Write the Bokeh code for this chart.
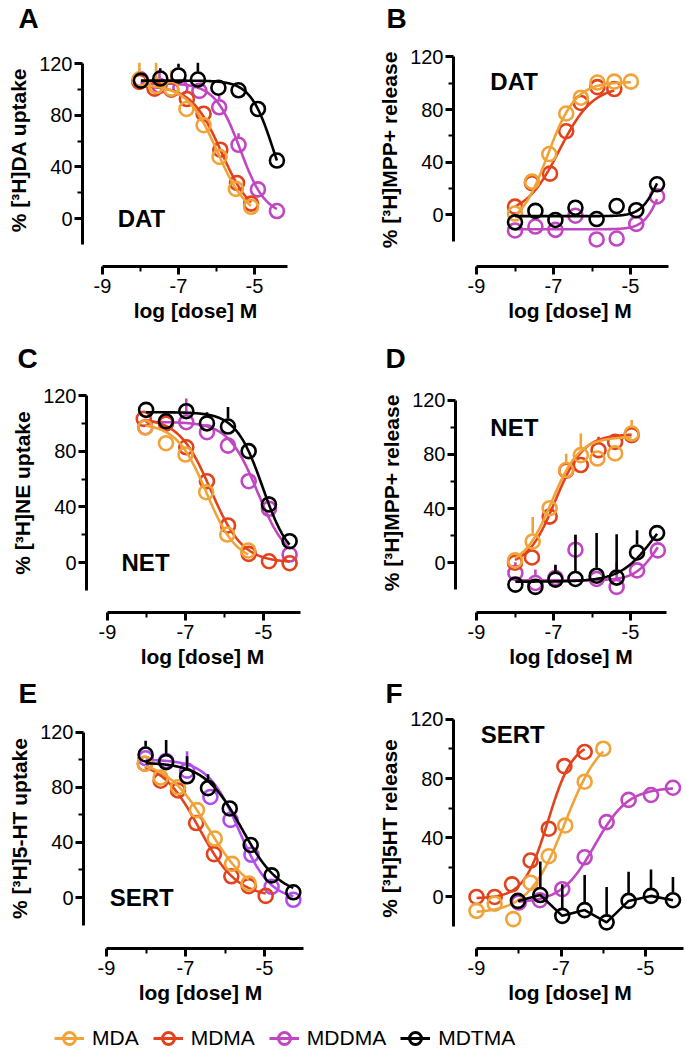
import numpy as np
from bokeh.plotting import figure
from bokeh.models import Range1d, FixedTicker, Legend, LegendItem, Label
from bokeh.layouts import row, column
from bokeh.embed import file_html
from bokeh.resources import INLINE

# ---------------- data ----------------
DRUGS = ["MDA", "MDMA", "MDDMA", "MDTMA"]

X_TICKS = [-9, -7, -5]
X_TICK_LABELS = ["-9", "-7", "-5"]
X_MINOR = [-8, -6]
Y_TICKS = [0, 40, 80, 120]
Y_TICK_LABELS = ["0", "40", "80", "120"]
Y_MINOR = [20, 60, 100]
X_TITLE = "log [dose] M"

# Panel A  - DAT uptake
A_MDA_x = [-8.03, -7.59, -7.19, -6.79, -6.34, -5.92, -5.49, -5.09]
A_MDA_y = [107.8, 102.8, 100.8, 85.0, 72.4, 47.8, 23.0, 9.1]
A_MDA_e = [13, 18, 14, 0, 0, 0, 0, 0]
A_MDMA_x = [-8.03, -7.63, -7.19, -6.78, -6.34, -5.90, -5.46, -5.09]
A_MDMA_y = [106.0, 100.8, 100.0, 92.7, 81.3, 53.4, 27.6, 11.6]
A_MDMA_e = [0, 0, 0, 0, 0, 0, 0, 0]
A_MDDMA_x = [-8.00, -7.50, -6.95, -6.45, -5.93, -5.42, -4.91, -4.41]
A_MDDMA_y = [108.0, 103.0, 101.5, 99.0, 86.3, 57.2, 22.6, 5.8]
A_MDDMA_e = [0, 12, 0, 0, 9, 9, 0, 0]
A_MDTMA_x = [-7.99, -7.48, -7.00, -6.49, -5.95, -5.42, -4.91, -4.41]
A_MDTMA_y = [107.0, 108.6, 111.0, 107.8, 101.5, 99.5, 85.0, 45.0]
A_MDTMA_e = [0, 8, 9, 13, 0, 0, 0, 0]
# fitted curve parameters (bottom, top, logEC50, hill) in DRUGS order
A_fit_bottom = [0, 0, 2, 0]
A_fit_top = [104, 103, 105, 107]
A_fit_logec50 = [-5.98, -5.87, -5.375, -4.506]
A_fit_hill = [-1.1, -1.1, -1.3, -1.45]

# Panel B  - DAT release
B_MDA_x = [-8.00, -7.56, -7.11, -6.67, -6.29, -5.86, -5.42, -4.99]
B_MDA_y = [1.0, 25.2, 46.2, 77.0, 89.0, 100.5, 101.2, 101.2]
B_MDA_e = [0, 0, 0, 0, 0, 0, 0, 0]
B_MDMA_x = [-8.00, -7.56, -7.09, -6.67, -6.29, -5.86, -5.42]
B_MDMA_y = [6.2, 24.0, 31.3, 63.5, 85.0, 97.0, 95.6]
B_MDMA_e = [0, 0, 0, 0, 0, 0, 0]
B_MDDMA_x = [-8.00, -7.47, -6.95, -6.43, -5.88, -5.36, -4.85, -4.31]
B_MDDMA_y = [-11.9, -8.9, -11.4, -0.7, -18.7, -18.0, -6.9, 14.0]
B_MDDMA_e = [0, 0, 0, 0, 0, 0, 0, 0]
B_MDTMA_x = [-8.00, -7.47, -6.95, -6.43, -5.88, -5.36, -4.85, -4.31]
B_MDTMA_y = [-5.7, 3.0, -3.9, 5.4, -3.2, 6.7, 3.5, 23.2]
B_MDTMA_e = [0, 0, 0, 0, 0, 0, 0, 0]
B_fit_bottom = [-10, 0, -11, -1]
B_fit_top = [101, 98, 50, 50]
B_fit_logec50 = [-7.15, -6.85, -4.2, -4.3]
B_fit_hill = [1.2, 1.0, 2.0, 2.0]

# Panel C  - NET uptake
C_MDA_x = [-8.03, -7.50, -7.00, -6.47, -5.93, -5.39]
C_MDA_y = [97.0, 85.7, 77.6, 50.5, 20.1, 8.6]
C_MDA_e = [0, 0, 0, 0, 0, 0]
C_MDMA_x = [-8.07, -7.50, -6.98, -6.45, -5.91, -5.38, -4.86, -4.33]
C_MDMA_y = [103.2, 100.0, 82.8, 58.4, 26.6, 6.2, 0.9, -0.5]
C_MDMA_e = [0, 0, 0, 0, 0, 0, 0, 0]
C_MDDMA_x = [-8.03, -7.50, -6.98, -6.45, -5.91, -5.38, -4.86, -4.33]
C_MDDMA_y = [97.2, 100.0, 100.8, 93.6, 84.0, 58.4, 38.6, 5.7]
C_MDDMA_e = [0, 8, 17, 0, 0, 0, 0, 0]
C_MDTMA_x = [-8.01, -7.50, -6.98, -6.45, -5.91, -5.38, -4.86, -4.33]
C_MDTMA_y = [109.7, 101.5, 108.7, 100.0, 97.7, 80.0, 41.7, 15.3]
C_MDTMA_e = [0, 0, 0, 8, 14, 0, 6, 0]
C_fit_bottom = [0, 0, 0, 0]
C_fit_top = [100, 104, 101, 108]
C_fit_logec50 = [-6.46, -6.35, -5.15, -5.02]
C_fit_hill = [-1.13, -1.06, -1.15, -1.26]

# Panel D  - NET release
D_MDA_x = [-8.00, -7.54, -7.10, -6.67, -6.29, -5.86, -5.40, -4.97]
D_MDA_y = [1.7, 15.7, 40.3, 68.5, 79.5, 77.0, 80.8, 95.5]
D_MDA_e = [0, 18, 0, 12, 16, 0, 0, 10]
D_MDMA_x = [-8.00, -7.56, -7.10, -6.67, -6.29, -5.83, -5.40, -4.97]
D_MDMA_y = [0.0, 3.9, 34.1, 68.0, 72.2, 83.2, 89.3, 94.3]
D_MDMA_e = [0, 0, 0, 0, 0, 10, 0, 0]
D_MDDMA_x = [-7.99, -7.47, -6.95, -6.43, -5.88, -5.36, -4.83, -4.29]
D_MDDMA_y = [-7.6, -15.0, -11.3, 9.6, -12.0, -17.9, -5.7, 9.1]
D_MDDMA_e = [8, 10, 9, 11, 0, 18, 0, 0]
D_MDTMA_x = [-7.99, -7.47, -6.95, -6.43, -5.88, -5.36, -4.83, -4.31]
D_MDTMA_y = [-16.2, -17.9, -12.5, -12.0, -9.6, -11.0, 7.6, 21.9]
D_MDTMA_e = [0, 0, 11, 32.6, 31.6, 32, 16.4, 0]
D_fit_bottom = [-3, -3, -13, -14]
D_fit_top = [93, 95, 35, 50]
D_fit_logec50 = [-7.05, -6.95, -4.3, -4.4]
D_fit_hill = [1.2, 1.2, 1.5, 1.0]

# Panel E  - SERT uptake
E_MDA_x = [-8.03, -7.63, -7.19, -6.71, -6.26, -5.82, -5.40]
E_MDA_y = [97.0, 87.0, 80.0, 63.4, 42.8, 24.4, 10.2]
E_MDA_e = [0, 0, 0, 0, 0, 0, 0]
E_MDMA_x = [-8.03, -7.63, -7.19, -6.73, -6.28, -5.84, -5.40, -4.97]
E_MDMA_y = [97.0, 84.7, 77.6, 54.0, 31.5, 15.4, 8.3, 1.2]
E_MDMA_e = [0, 0, 0, 0, 0, 0, 0, 0]
E_MDDMA_x = [-8.01, -7.49, -6.96, -6.37, -5.86, -5.33, -4.82, -4.27]
E_MDDMA_y = [101.0, 99.0, 92.0, 72.9, 56.3, 31.0, 7.8, -1.6]
E_MDDMA_e = [0, 0, 14, 0, 0, 0, 0, 0]
E_MDTMA_x = [-8.01, -7.49, -6.96, -6.43, -5.88, -5.35, -4.82, -4.27]
E_MDTMA_y = [103.7, 98.2, 87.9, 79.3, 64.6, 38.1, 16.1, 3.8]
E_MDTMA_e = [10, 16, 14.6, 10, 0, 0, 0, 0]
E_fit_bottom = [0, 0, -2, 1]
E_fit_top = [100, 100, 100, 98]
E_fit_logec50 = [-6.415, -6.65, -5.65, -5.565]
E_fit_hill = [-0.81, -0.9, -1.1, -0.91]

# Panel F  - SERT release
F_MDA_x = [-9.00, -8.57, -8.13, -7.72, -7.29, -6.90, -6.44, -6.00]
F_MDA_y = [-9.4, -4.5, -15.0, 9.6, 27.5, 48.3, 77.9, 100.2]
F_MDA_e = [0, 0, 0, 0, 0, 0, 0, 0]
F_MDMA_x = [-9.00, -8.57, -8.16, -7.72, -7.29, -6.92, -6.44]
F_MDMA_y = [0.0, 0.0, 8.5, 24.6, 46.1, 88.4, 98.0]
F_MDMA_e = [0, 0, 0, 0, 0, 0, 0]
F_MDDMA_x = [-8.00, -7.50, -6.97, -6.44, -5.92, -5.40, -4.87, -4.35]
F_MDDMA_y = [-3.8, -2.2, 5.2, 26.8, 50.6, 65.6, 68.9, 73.8]
F_MDDMA_e = [0, 0, 0, 0, 0, 0, 0, 0]
F_MDTMA_x = [-8.02, -7.49, -6.97, -6.44, -5.92, -5.40, -4.87, -4.35]
F_MDTMA_y = [-2.7, 1.3, -12.8, -8.9, -17.2, -2.7, 0.7, -2.2]
F_MDTMA_e = [0, 22.7, 21.3, 23.7, 23.9, 19.7, 17.8, 15.6]
F_fit_bottom = [-11, -1, -4, None]
F_fit_top = [112, 105, 74, None]
F_fit_logec50 = [-6.9, -7.3, -6.2, None]
F_fit_hill = [1.0, 1.5, 1.1, None]   # MDTMA: points joined, no fit

Y_TITLES = {
    "A": "% [³H]DA uptake", "B": "% [³H]MPP+ release",
    "C": "% [³H]NE uptake", "D": "% [³H]MPP+ release",
    "E": "% [³H]5-HT uptake", "F": "% [³H]5HT release",
}
TAGS = {"A": "DAT", "B": "DAT", "C": "NET", "D": "NET", "E": "SERT", "F": "SERT"}

# ---------------- styling ----------------
FONT = "Liberation Sans"
COLORS = {"MDA": "#F0A338", "MDMA": "#E2421C", "MDDMA": "#C046C2", "MDTMA": "#000000"}
E_COLORS = dict(COLORS, MDDMA="#B24EEE")
DRAW_ORDER = ["MDDMA", "MDMA", "MDA", "MDTMA"]
LW = 2.6
AXLW = 3
MSIZE = 14

# panel geometry in page pixels (figure box, axes positions)
GEOM = {
    "A": dict(fig=(0, 0, 343, 330), yax=82, y120=59, y0=217, xax=266, xm9=102, xm5=254,
              ftop=28, fright=308, xend=-4.13, letter=18, tag=(-8.6, 0)),
    "B": dict(fig=(343, 0, 343, 330), yax=453, y120=52, y0=214, xax=267, xm9=476, xm5=630,
              ftop=28, fright=686, xend=-4.02, letter=386, tag=(-8.64, 101)),
    "C": dict(fig=(0, 330, 343, 342), yax=86, y120=395, y0=562, xax=612, xm9=107, xm5=263,
              ftop=373, fright=318, xend=-4.05, letter=17, tag=(-8.64, 0)),
    "D": dict(fig=(343, 330, 343, 342), yax=455, y120=400, y0=563, xax=613, xm9=476, xm5=630,
              ftop=373, fright=686, xend=-4.06, letter=385, tag=(-8.64, 100)),
    "E": dict(fig=(0, 672, 343, 341), yax=83, y120=732, y0=901, xax=953, xm9=106, xm5=264,
              ftop=708, fright=317, xend=-4.01, letter=18, tag=(-8.92, 0)),
    "F": dict(fig=(343, 672, 343, 341), yax=453, y120=717, y0=896, xax=948, xm9=476, xm5=645,
              ftop=706, fright=686, xend=-4.1, letter=385, tag=(-8.9, 110)),
}


def series_of(letter):
    g = globals()
    return {d: (g[f"{letter}_{d}_x"], g[f"{letter}_{d}_y"], g[f"{letter}_{d}_e"]) for d in DRUGS}


def fits_of(letter):
    g = globals()
    b, t, c, h = (g[f"{letter}_fit_{k}"] for k in ("bottom", "top", "logec50", "hill"))
    return {d: (None if h[i] is None else (b[i], t[i], c[i], h[i])) for i, d in enumerate(DRUGS)}


def style_axis(ax):
    ax.axis_line_width = AXLW
    ax.axis_line_color = "black"
    ax.major_tick_line_width = AXLW
    ax.minor_tick_line_width = 2
    ax.major_tick_line_color = "black"
    ax.minor_tick_line_color = "black"
    ax.major_tick_in = 0
    ax.major_tick_out = 8
    ax.minor_tick_in = 0
    ax.minor_tick_out = 5
    ax.major_label_text_font = FONT
    ax.major_label_text_font_size = "20px"
    ax.major_label_text_color = "black"
    ax.axis_label_text_font = FONT
    ax.axis_label_text_font_size = "21px"
    ax.axis_label_text_font_style = "bold"
    ax.axis_label_text_color = "black"


def make_panel(letter, colors):
    g = GEOM[letter]
    fx0, fy0, fw, fh = g["fig"]
    ppx = (g["xm5"] - g["xm9"]) / 4.0
    ppy = (g["y0"] - g["y120"]) / 120.0
    xr = Range1d(-9 - (g["xm9"] - g["yax"]) / ppx, -9 + (g["fright"] - g["xm9"]) / ppx)
    yr = Range1d(-(g["xax"] - g["y0"]) / ppy, (g["y0"] - g["ftop"]) / ppy)
    p = figure(width=fw, height=fh, x_range=xr, y_range=yr,
               output_backend="svg", toolbar_location=None,
               min_border_left=int(g["yax"] - fx0), min_border_right=int(fx0 + fw - g["fright"]),
               min_border_top=int(g["ftop"] - fy0), min_border_bottom=int(fy0 + fh - g["xax"]))
    p.outline_line_color = None
    p.xgrid.visible = False
    p.ygrid.visible = False
    p.background_fill_color = "white"
    p.border_fill_color = "white"

    # panel letter as the figure title, pulled left over the axis area
    p.title.text = letter
    p.title.align = "left"
    p.title.offset = g["letter"] - g["yax"]
    p.title.standoff = 0
    p.title.text_font = FONT
    p.title.text_font_size = "28px"
    p.title.text_font_style = "bold"
    p.title.text_color = "black"

    xa = p.xaxis[0]
    xa.bounds = (-9, g["xend"])
    xa.ticker = FixedTicker(ticks=X_TICKS, minor_ticks=X_MINOR)
    xa.major_label_overrides = {t: l for t, l in zip(X_TICKS, X_TICK_LABELS)}
    style_axis(xa)
    xa.major_label_standoff = 4
    xa.axis_label = X_TITLE
    xa.axis_label_standoff = 3

    ya = p.yaxis[0]
    ya.bounds = (-20, 120)
    ya.ticker = FixedTicker(ticks=Y_TICKS, minor_ticks=Y_MINOR)
    ya.major_label_overrides = {t: l for t, l in zip(Y_TICKS, Y_TICK_LABELS)}
    style_axis(ya)
    ya.major_label_standoff = 2
    ya.axis_label = Y_TITLES[letter]
    ya.axis_label_standoff = 6

    series = series_of(letter)
    fits = fits_of(letter)
    r_data = 8.0 / ppy
    for d in DRAW_ORDER:
        xs, ys, es = series[d]
        c = colors[d]
        keep = [(x, y, e) for x, y, e in zip(xs, ys, es) if e > r_data]
        if keep:
            p.segment(x0=[k[0] for k in keep], y0=[k[1] + r_data for k in keep],
                      x1=[k[0] for k in keep], y1=[k[1] + k[2] for k in keep],
                      line_color=c, line_width=LW)
        fit = fits[d]
        if fit is None:
            p.line(xs, ys, line_color=c, line_width=LW)
        else:
            b, t, c50, h = fit
            xx = np.linspace(min(xs), max(xs), 200)
            yy = b + (t - b) / (1.0 + 10.0 ** ((c50 - xx) * h))
            p.line(xx, yy, line_color=c, line_width=LW)
        p.scatter(xs, ys, marker="circle", size=MSIZE, line_color=c,
                  fill_color=None, line_width=LW)

    tx, ty = g["tag"]
    p.add_layout(Label(x=tx, y=ty, text=TAGS[letter], text_font=FONT, text_font_size="24px",
                       text_font_style="bold", text_baseline="middle", text_align="left",
                       text_color="black"))
    return p


pA = make_panel("A", COLORS)
pB = make_panel("B", COLORS)
pC = make_panel("C", COLORS)
pD = make_panel("D", COLORS)
pE = make_panel("E", E_COLORS)
pF = make_panel("F", COLORS)

# ---------------- legend strip ----------------
lg = figure(width=686, height=40, output_backend="svg", toolbar_location=None,
            x_range=Range1d(0, 1), y_range=Range1d(0, 1),
            x_axis_location=None, y_axis_location=None, min_border=0)
lg.outline_line_color = None
lg.xgrid.visible = False
lg.ygrid.visible = False
items = []
for d in DRUGS:
    # legend-only renderers: one NaN point each, so nothing is drawn in the strip itself
    r1 = lg.line(x=[np.nan], y=[np.nan], line_color=COLORS[d], line_width=3)
    r2 = lg.scatter(x=[np.nan], y=[np.nan], marker="circle", size=12, line_color=COLORS[d],
                    fill_color=None, line_width=3)
    items.append(LegendItem(label=d, renderers=[r1, r2]))
legend = Legend(items=items, orientation="horizontal", location=(54, 0),
                label_text_font=FONT, label_text_font_size="21px", label_text_color="black",
                glyph_width=30, glyph_height=30, label_standoff=8, spacing=14,
                padding=0, margin=0, border_line_alpha=0, background_fill_alpha=0)
lg.add_layout(legend)

layout = column(row(pA, pB), row(pC, pD), row(pE, pF), lg)
open("out.html", "w").write(file_html(layout, INLINE, title="Transporter uptake and release"))
